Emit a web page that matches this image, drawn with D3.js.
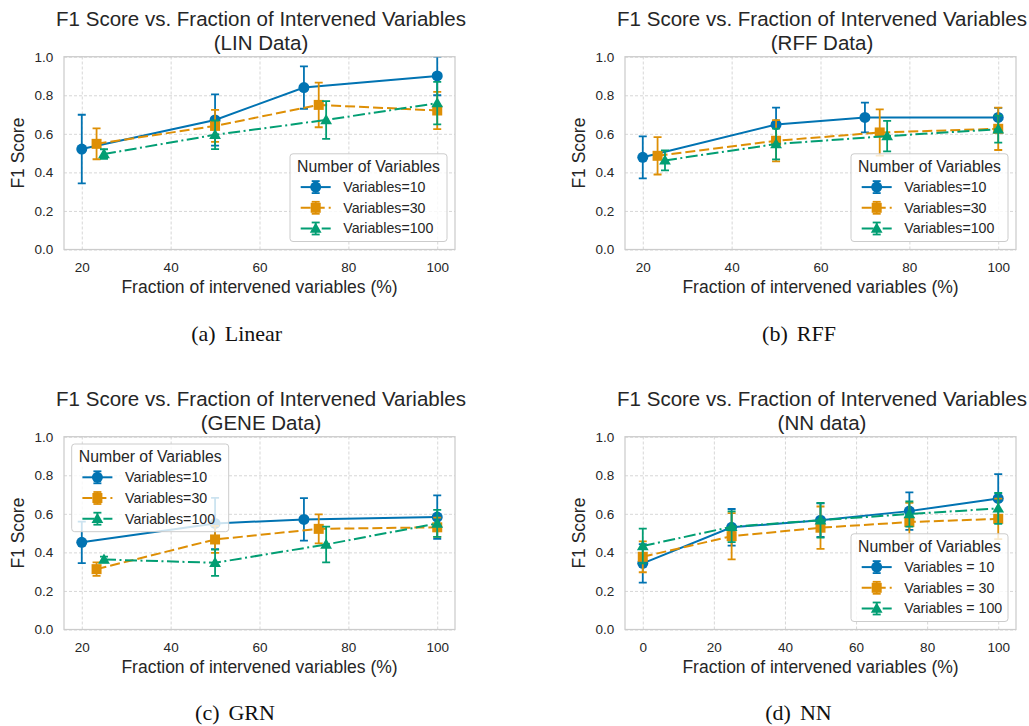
<!DOCTYPE html>
<html>
<head>
<meta charset="utf-8">
<script src="https://cdn.jsdelivr.net/npm/d3@7"></script>
<style>
  body { margin: 0; background: #fff; }
  svg text { font-family: "Liberation Sans", Arial, sans-serif; fill: #262626; }
  svg text.caption { font-family: "Liberation Serif", "Times New Roman", serif; fill: #111; }
</style>
</head>
<body>
<svg id="fig" width="1029" height="726"></svg>
<script>
// x positions (% intervened) for each variable count
var xVars10 = [20, 50, 70, 100]
var xVars30 = [23.33, 50, 73.33, 100]
var xVars100 = [25, 50, 75, 100]
var xNN = [0, 25, 50, 75, 100]

// LIN data
var linMean10 = [0.521, 0.672, 0.840, 0.900]
var linErr10 = [0.178, 0.133, 0.110, 0.100]
var linMean30 = [0.548, 0.641, 0.750, 0.721]
var linErr30 = [0.080, 0.083, 0.116, 0.097]
var linMean100 = [0.495, 0.595, 0.672, 0.759]
var linErr100 = [0.025, 0.074, 0.098, 0.110]

// RFF data
var rffMean10 = [0.478, 0.648, 0.685, 0.685]
var rffErr10 = [0.109, 0.088, 0.077, 0.050]
var rffMean30 = [0.486, 0.564, 0.607, 0.626]
var rffErr30 = [0.097, 0.107, 0.120, 0.110]
var rffMean100 = [0.462, 0.547, 0.588, 0.624]
var rffErr100 = [0.052, 0.080, 0.079, 0.070]

// GENE data
var grnMean10 = [0.452, 0.550, 0.571, 0.583]
var grnErr10 = [0.108, 0.133, 0.110, 0.113]
var grnMean30 = [0.313, 0.467, 0.522, 0.530]
var grnErr30 = [0.035, 0.070, 0.075, 0.050]
var grnMean100 = [0.363, 0.346, 0.441, 0.550]
var grnErr100 = [0.015, 0.068, 0.093, 0.070]

// NN data
var nnMean10 = [0.343, 0.530, 0.567, 0.614, 0.680]
var nnErr10 = [0.100, 0.095, 0.087, 0.097, 0.126]
var nnMean30 = [0.377, 0.484, 0.528, 0.557, 0.574]
var nnErr30 = [0.080, 0.120, 0.110, 0.100, 0.105]
var nnMean100 = [0.433, 0.533, 0.567, 0.599, 0.628]
var nnErr100 = [0.090, 0.080, 0.090, 0.065, 0.080]

var xTicks20 = [20, 40, 60, 80, 100]
var xTicks0 = [0, 20, 40, 60, 80, 100]
var yTicks = [0, 0.2, 0.4, 0.6, 0.8, 1.0]

var labelsEq = ['Variables=10', 'Variables=30', 'Variables=100']
var labelsSpaced = ['Variables = 10', 'Variables = 30', 'Variables = 100']

var colors = ['#0173b2', '#de8f05', '#029e73']
var dashes = [null, '10,4', '12,3.5,2,3.5']
var markers = ['circle', 'square', 'triangle']

var svg = d3.select('#fig')

var panels = [
  { id: 'a', left: 64, top: 56.7, sub: '(LIN Data)', caption: ['(a)', 'Linear'], capX: 236.7, capY: 341,
    xDomain: [16, 104], xTicks: xTicks20, labels: labelsEq, legend: 'lr',
    series: [[xVars10, linMean10, linErr10], [xVars30, linMean30, linErr30], [xVars100, linMean100, linErr100]] },
  { id: 'b', left: 625, top: 56.7, sub: '(RFF Data)', caption: ['(b)', 'RFF'], capX: 799, capY: 341,
    xDomain: [16, 104], xTicks: xTicks20, labels: labelsEq, legend: 'lr',
    series: [[xVars10, rffMean10, rffErr10], [xVars30, rffMean30, rffErr30], [xVars100, rffMean100, rffErr100]] },
  { id: 'c', left: 64, top: 436.7, sub: '(GENE Data)', caption: ['(c)', 'GRN'], capX: 235, capY: 720,
    xDomain: [16, 104], xTicks: xTicks20, labels: labelsEq, legend: 'ul',
    series: [[xVars10, grnMean10, grnErr10], [xVars30, grnMean30, grnErr30], [xVars100, grnMean100, grnErr100]] },
  { id: 'd', left: 625, top: 436.7, sub: '(NN data)', caption: ['(d)', 'NN'], capX: 798.5, capY: 720,
    xDomain: [-5, 105], xTicks: xTicks0, labels: labelsSpaced, legend: 'lr',
    series: [[xNN, nnMean10, nnErr10], [xNN, nnMean30, nnErr30], [xNN, nnMean100, nnErr100]] }
]

var W = 391, H = 192.8

function drawMarker(g, type, cx, cy, color) {
  if (type === 'circle') {
    g.append('circle').attr('cx', cx).attr('cy', cy).attr('r', 5.5).attr('fill', color)
  } else if (type === 'square') {
    g.append('rect').attr('x', cx - 5).attr('y', cy - 5).attr('width', 10).attr('height', 10).attr('fill', color)
  } else {
    g.append('path').attr('d', d3.symbol(d3.symbolTriangle, 60)()).attr('transform', `translate(${cx},${cy + 0.8})`).attr('fill', color)
  }
}

function errorBar(g, cx, y1, y2, color) {
  g.append('line').attr('x1', cx).attr('x2', cx).attr('y1', y1).attr('y2', y2)
    .attr('stroke', color).attr('stroke-width', 1.8)
  ;[y1, y2].forEach(y => {
    g.append('line').attr('x1', cx - 4).attr('x2', cx + 4).attr('y1', y).attr('y2', y)
      .attr('stroke', color).attr('stroke-width', 1.8)
  })
}

panels.forEach(p => {
  var x = d3.scaleLinear().domain(p.xDomain).range([0, W])
  var y = d3.scaleLinear().domain([0, 1]).range([H, 0])
  var g = svg.append('g').attr('transform', `translate(${p.left},${p.top})`)

  svg.append('clipPath').attr('id', 'clip-' + p.id)
    .append('rect').attr('width', W).attr('height', H)

  // grid + ticks
  var gx = g.append('g').attr('transform', `translate(0,${H})`)
    .call(d3.axisBottom(x).tickValues(p.xTicks).tickSize(-H).tickPadding(13).tickFormat(d3.format('d')))
  var gy = g.append('g')
    .call(d3.axisLeft(y).tickValues(yTicks).tickSize(-W).tickPadding(10.7).tickFormat(d3.format('.1f')))
  ;[gx, gy].forEach(a => {
    a.select('.domain').remove()
    a.selectAll('line').attr('stroke', '#d3d3d3').attr('stroke-width', 0.9).attr('stroke-dasharray', '3,2')
    a.selectAll('text').attr('font-size', 13.5).attr('fill', '#262626').attr('font-family', '"Liberation Sans", Arial, sans-serif')
  })

  // data
  var plot = g.append('g').attr('clip-path', `url(#clip-${p.id})`)
  p.series.forEach((s, i) => {
    var xs = s[0], ms = s[1], es = s[2]
    var sg = plot.append('g')
    xs.forEach((xv, j) => errorBar(sg, x(xv), y(ms[j] + es[j]), y(ms[j] - es[j]), colors[i]))
    var line = d3.line().x(d => x(d[0])).y(d => y(d[1]))
    sg.append('path').attr('d', line(xs.map((xv, j) => [xv, ms[j]])))
      .attr('fill', 'none').attr('stroke', colors[i]).attr('stroke-width', 2)
      .attr('stroke-dasharray', dashes[i])
    xs.forEach((xv, j) => drawMarker(sg, markers[i], x(xv), y(ms[j]), colors[i]))
  })

  // spines
  g.append('rect').attr('width', W).attr('height', H)
    .attr('fill', 'none').attr('stroke', '#cccccc').attr('stroke-width', 1.25)

  // legend
  var lw = 157, lh = 87.7
  var lx = p.legend === 'ul' ? 7.7 : W - 8 - lw
  var ly = p.legend === 'ul' ? 7.3 : H - 8 - lh
  var lg = g.append('g').attr('transform', `translate(${lx},${ly})`)
  lg.append('rect').attr('width', lw).attr('height', lh).attr('rx', 3)
    .attr('fill', '#fff').attr('fill-opacity', 0.8).attr('stroke', '#cccccc').attr('stroke-width', 1)
  lg.append('text').attr('x', lw / 2).attr('y', 17.8).attr('text-anchor', 'middle')
    .attr('font-size', 15.8).text('Number of Variables')
  p.labels.forEach((lab, i) => {
    var cy = 33.3 + i * 20.7
    var hx = 10.7
    errorBar(lg, hx + 15, cy - 6, cy + 6, colors[i])
    lg.append('line').attr('x1', hx).attr('x2', hx + 30).attr('y1', cy).attr('y2', cy)
      .attr('stroke', colors[i]).attr('stroke-width', 2).attr('stroke-dasharray', dashes[i])
    drawMarker(lg, markers[i], hx + 15, cy, colors[i])
    lg.append('text').attr('x', 53.3).attr('y', cy + 5).attr('font-size', 14.2).text(lab)
  })

  // titles and labels
  g.append('text').attr('x', W / 2 + 1.5).attr('y', -30.5).attr('text-anchor', 'middle')
    .attr('font-size', 20.5).text('F1 Score vs. Fraction of Intervened Variables')
  g.append('text').attr('x', W / 2 + 1.5).attr('y', -6.5).attr('text-anchor', 'middle')
    .attr('font-size', 20.5).text(p.sub)
  g.append('text').attr('x', W / 2).attr('y', H + 44).attr('text-anchor', 'middle')
    .attr('font-size', 17.5).text('Fraction of intervened variables (%)')
  g.append('text').attr('transform', `translate(-40,${H / 2}) rotate(-90)`).attr('text-anchor', 'middle')
    .attr('font-size', 17.5).text('F1 Score')

  // caption
  var cap = svg.append('text').attr('class', 'caption').attr('x', p.capX).attr('y', p.capY)
    .attr('text-anchor', 'middle').attr('font-size', 22)
  cap.append('tspan').text(p.caption[0])
  cap.append('tspan').attr('dx', 9).text(p.caption[1])
})
</script>
</body>
</html>
